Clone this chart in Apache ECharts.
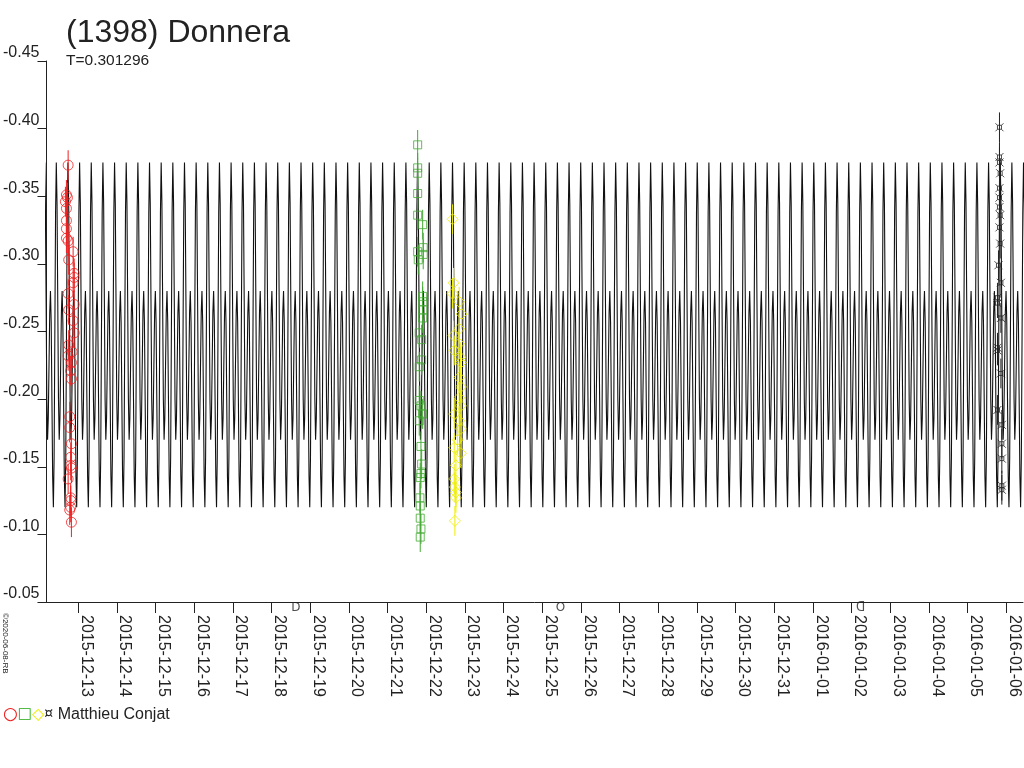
<!DOCTYPE html>
<html>
<head>
<meta charset="utf-8">
<script src="https://cdn.jsdelivr.net/npm/echarts@6/dist/echarts.min.js"></script>
<style>
  html, body { margin: 0; padding: 0; background: #fff; }
  #chart { width: 1024px; height: 768px; }
</style>
</head>
<body>
<div id="chart"></div>
<script>
// days are counted from 2015-12-13 00:00 UT
var dateLabels = ['2015-12-13','2015-12-14','2015-12-15','2015-12-16','2015-12-17','2015-12-18',
  '2015-12-19','2015-12-20','2015-12-21','2015-12-22','2015-12-23','2015-12-24','2015-12-25',
  '2015-12-26','2015-12-27','2015-12-28','2015-12-29','2015-12-30','2015-12-31','2016-01-01',
  '2016-01-02','2016-01-03','2016-01-04','2016-01-05','2016-01-06'];
var dayTicks = [0,1,2,3,4,5,6,7,8,9,10,11,12,13,14,15,16,17,18,19,20,21,22,23,24];
var yTicks = [-0.45,-0.40,-0.35,-0.30,-0.25,-0.20,-0.15,-0.10,-0.05];

// model lightcurve: period (days), time of max, one cycle of magnitudes (16 phase steps)
var period = 0.301296;
var epochMax = 13.597;
var cycleMag = [-0.375,-0.345,-0.273,-0.200,-0.170,-0.186,-0.225,-0.264,
                -0.280,-0.257,-0.200,-0.143,-0.120,-0.157,-0.248,-0.338];

// observations [day, mag]
var obsRed = [[-0.258,-0.373],[-0.302,-0.351],[-0.276,-0.349],[-0.328,-0.346],[-0.302,-0.341],
  [-0.302,-0.332],[-0.302,-0.326],[-0.302,-0.319],[-0.258,-0.317],[-0.129,-0.309],[-0.243,-0.303],
  [-0.103,-0.293],[-0.103,-0.290],[-0.129,-0.286],[-0.258,-0.278],[-0.103,-0.270],[-0.243,-0.266],
  [-0.129,-0.258],[-0.103,-0.249],[-0.243,-0.240],[-0.155,-0.235],[-0.258,-0.232],[-0.173,-0.227],
  [-0.191,-0.221],[-0.173,-0.215],[-0.217,-0.187],[-0.217,-0.179],[-0.173,-0.167],[-0.191,-0.157],
  [-0.191,-0.151],[-0.173,-0.149],[-0.258,-0.141],[-0.191,-0.127],[-0.191,-0.125],[-0.191,-0.120],
  [-0.217,-0.118],[-0.173,-0.109]];
var obsGreen = [[8.779,-0.388],[8.779,-0.371],[8.779,-0.367],[8.779,-0.352],[8.779,-0.336],
  [8.908,-0.329],[8.923,-0.312],[8.923,-0.307],[8.779,-0.309],[8.794,-0.303],[8.908,-0.276],
  [8.908,-0.272],[8.908,-0.266],[8.908,-0.260],[8.820,-0.249],[8.882,-0.244],[8.882,-0.229],
  [8.820,-0.224],[8.820,-0.199],[8.864,-0.195],[8.908,-0.189],[8.820,-0.184],[8.864,-0.165],
  [8.882,-0.152],[8.864,-0.145],[8.846,-0.142],[8.838,-0.127],[8.846,-0.121],[8.846,-0.112],
  [8.864,-0.104],[8.846,-0.098]];
var obsYellow = [[9.682,-0.333],[9.708,-0.286],[9.682,-0.278],[9.853,-0.272],[9.915,-0.263],
  [9.853,-0.252],[9.708,-0.247],[9.853,-0.241],[9.724,-0.236],[9.879,-0.231],[9.897,-0.227],
  [9.853,-0.216],[9.897,-0.209],[9.853,-0.201],[9.897,-0.195],[9.724,-0.189],[9.853,-0.184],
  [9.897,-0.178],[9.811,-0.170],[9.724,-0.164],[9.897,-0.160],[9.768,-0.151],[9.724,-0.141],
  [9.742,-0.135],[9.768,-0.131],[9.768,-0.127],[9.742,-0.110]];
var obsBlack = [[23.822,-0.401],[23.822,-0.379],[23.822,-0.375],[23.840,-0.367],[23.822,-0.356],
  [23.822,-0.349],[23.822,-0.342],[23.840,-0.336],[23.822,-0.327],[23.840,-0.315],[23.796,-0.299],
  [23.858,-0.286],[23.770,-0.275],[23.770,-0.271],[23.858,-0.260],[23.770,-0.238],[23.770,-0.236],
  [23.858,-0.219],[23.770,-0.192],[23.883,-0.181],[23.883,-0.167],[23.883,-0.156],[23.883,-0.136],
  [23.883,-0.133]];
var obsErr = 0.011;

// moon phases (first quarter, full, last quarter)
var moonDays = [5.63, 12.47, 20.23];
var moonGlyphs = ['D', 'O', 'ᗡ'];

var xMin = -0.818, xMax = 24.43;
var FONT = '"Liberation Sans", Arial, sans-serif';

var chartObj = {
	init(){
		var myChart = echarts.init(document.getElementById('chart'));
		myChart.setOption(this.option());
	},
	modelCurve(){
		var pts = [];
		var k0 = Math.floor((xMin - epochMax) / period) - 1;
		var k1 = Math.ceil((xMax - epochMax) / period) + 1;
		for (var k = k0; k <= k1; k++) {
			for (var i = 0; i < cycleMag.length; i++) {
				pts.push([epochMax + (k + i / cycleMag.length) * period, cycleMag[i]]);
			}
		}
		return pts;
	},
	errorBars(data, color){
		return {
			type: 'custom',
			silent: true,
			z: 3,
			data: data,
			renderItem: function(params, api){
				var t = api.value(0), m = api.value(1);
				var p1 = api.coord([t, m - obsErr]);
				var p2 = api.coord([t, m + obsErr]);
				return {
					type: 'line',
					shape: { x1: p1[0], y1: p1[1], x2: p2[0], y2: p2[1] },
					style: { stroke: color, lineWidth: 1 }
				};
			}
		};
	},
	obsSeries(data, symbol, size, color){
		return {
			type: 'scatter',
			data: data,
			symbol: symbol,
			symbolSize: size,
			z: 4,
			itemStyle: { color: 'transparent', borderColor: color, borderWidth: 1 }
		};
	},
	option(){
		// "¤" like mark: small box with four corner spurs
		var cur = 'path://M2.5,2.5L7.5,2.5L7.5,7.5L2.5,7.5ZM0,0L2.5,2.5M10,0L7.5,2.5M10,10L7.5,7.5M0,10L2.5,7.5';
		return {
			animation: false,
			backgroundColor: '#fff',
			title: [
				{ text: '(1398) Donnera', left: 61, top: 12,
				  textStyle: { fontFamily: FONT, fontSize: 32, fontWeight: 'normal', color: '#222' } },
				{ text: 'T=0.301296', left: 61, top: 48,
				  textStyle: { fontFamily: FONT, fontSize: 15.5, fontWeight: 'normal', color: '#222' } },
				{ text: '{r|○}{g|□}{y|◇}{k|¤} Matthieu Conjat', left: -2, top: 701,
				  textStyle: { fontFamily: FONT, fontSize: 16, fontWeight: 'normal', color: '#222',
				    rich: {
				      r: { color: '#ee2222', fontSize: 17, fontFamily: 'DejaVu Sans' },
				      g: { color: '#22aa11', fontSize: 15, fontWeight: 'bold', fontFamily: 'DejaVu Sans' },
				      y: { color: '#eeee00', fontSize: 16, fontFamily: 'DejaVu Sans' },
				      k: { color: '#222', fontSize: 14, fontFamily: 'DejaVu Sans' }
				    } } }
			],
			graphic: [
				{ type: 'text', x: 9, y: 613, rotation: -Math.PI / 2,
				  style: { text: '©2020-06-08-RB', fontSize: 8, fontFamily: FONT, fill: '#222' } }
			],
			grid: { left: 45, right: 1, top: 61, bottom: 166, containLabel: false },
			xAxis: {
				type: 'value',
				min: xMin,
				max: xMax,
				axisLine: { show: true, onZero: false, lineStyle: { color: '#222', width: 1 } },
				axisTick: { show: true, length: 11, customValues: dayTicks, lineStyle: { color: '#222' } },
				axisLabel: {
					customValues: dayTicks,
					rotate: -90,
					margin: 13,
					verticalAlign: 'bottom',
					fontFamily: FONT, fontSize: 16, color: '#222',
					formatter: function(v){ return dateLabels[dayTicks.indexOf(Math.round(v))]; }
				},
				splitLine: { show: false }
			},
			yAxis: {
				type: 'value',
				inverse: true,
				min: -0.45,
				max: -0.05,
				axisLine: { show: true, onZero: false, lineStyle: { color: '#222', width: 1 } },
				axisTick: { show: true, length: 9, customValues: yTicks, lineStyle: { color: '#222' } },
				axisLabel: {
					customValues: yTicks,
					margin: 7,
					verticalAlign: 'bottom',
					fontFamily: FONT, fontSize: 16, color: '#222',
					formatter: function(v){ return v.toFixed(2); }
				},
				splitLine: { show: false }
			},
			series: [
				{
					type: 'line',
					data: this.modelCurve(),
					showSymbol: false,
					symbol: 'none',
					sampling: null,
					z: 1,
					lineStyle: { color: '#111', width: 1.1 }
				},
				this.errorBars(obsRed, '#ee2222'),
				this.errorBars(obsGreen, '#44aa33'),
				this.errorBars(obsYellow, '#eeee00'),
				this.errorBars(obsBlack, '#222'),
				this.obsSeries(obsRed, 'circle', 10, '#ee2222'),
				this.obsSeries(obsGreen, 'rect', 8, '#44aa33'),
				this.obsSeries(obsYellow, 'diamond', 11, '#eeee00'),
				this.obsSeries(obsBlack, cur, 8, '#222'),
				{
					type: 'scatter',
					clip: false,
					silent: true,
					symbolSize: 0,
					data: moonDays.map(function(d){ return [d, -0.0455]; }),
					label: {
						show: true, position: 'inside',
						fontFamily: 'DejaVu Sans', fontSize: 12, color: '#222',
						formatter: function(p){ return moonGlyphs[p.dataIndex]; }
					}
				}
			]
		};
	}
};
chartObj.init();
</script>
</body>
</html>
